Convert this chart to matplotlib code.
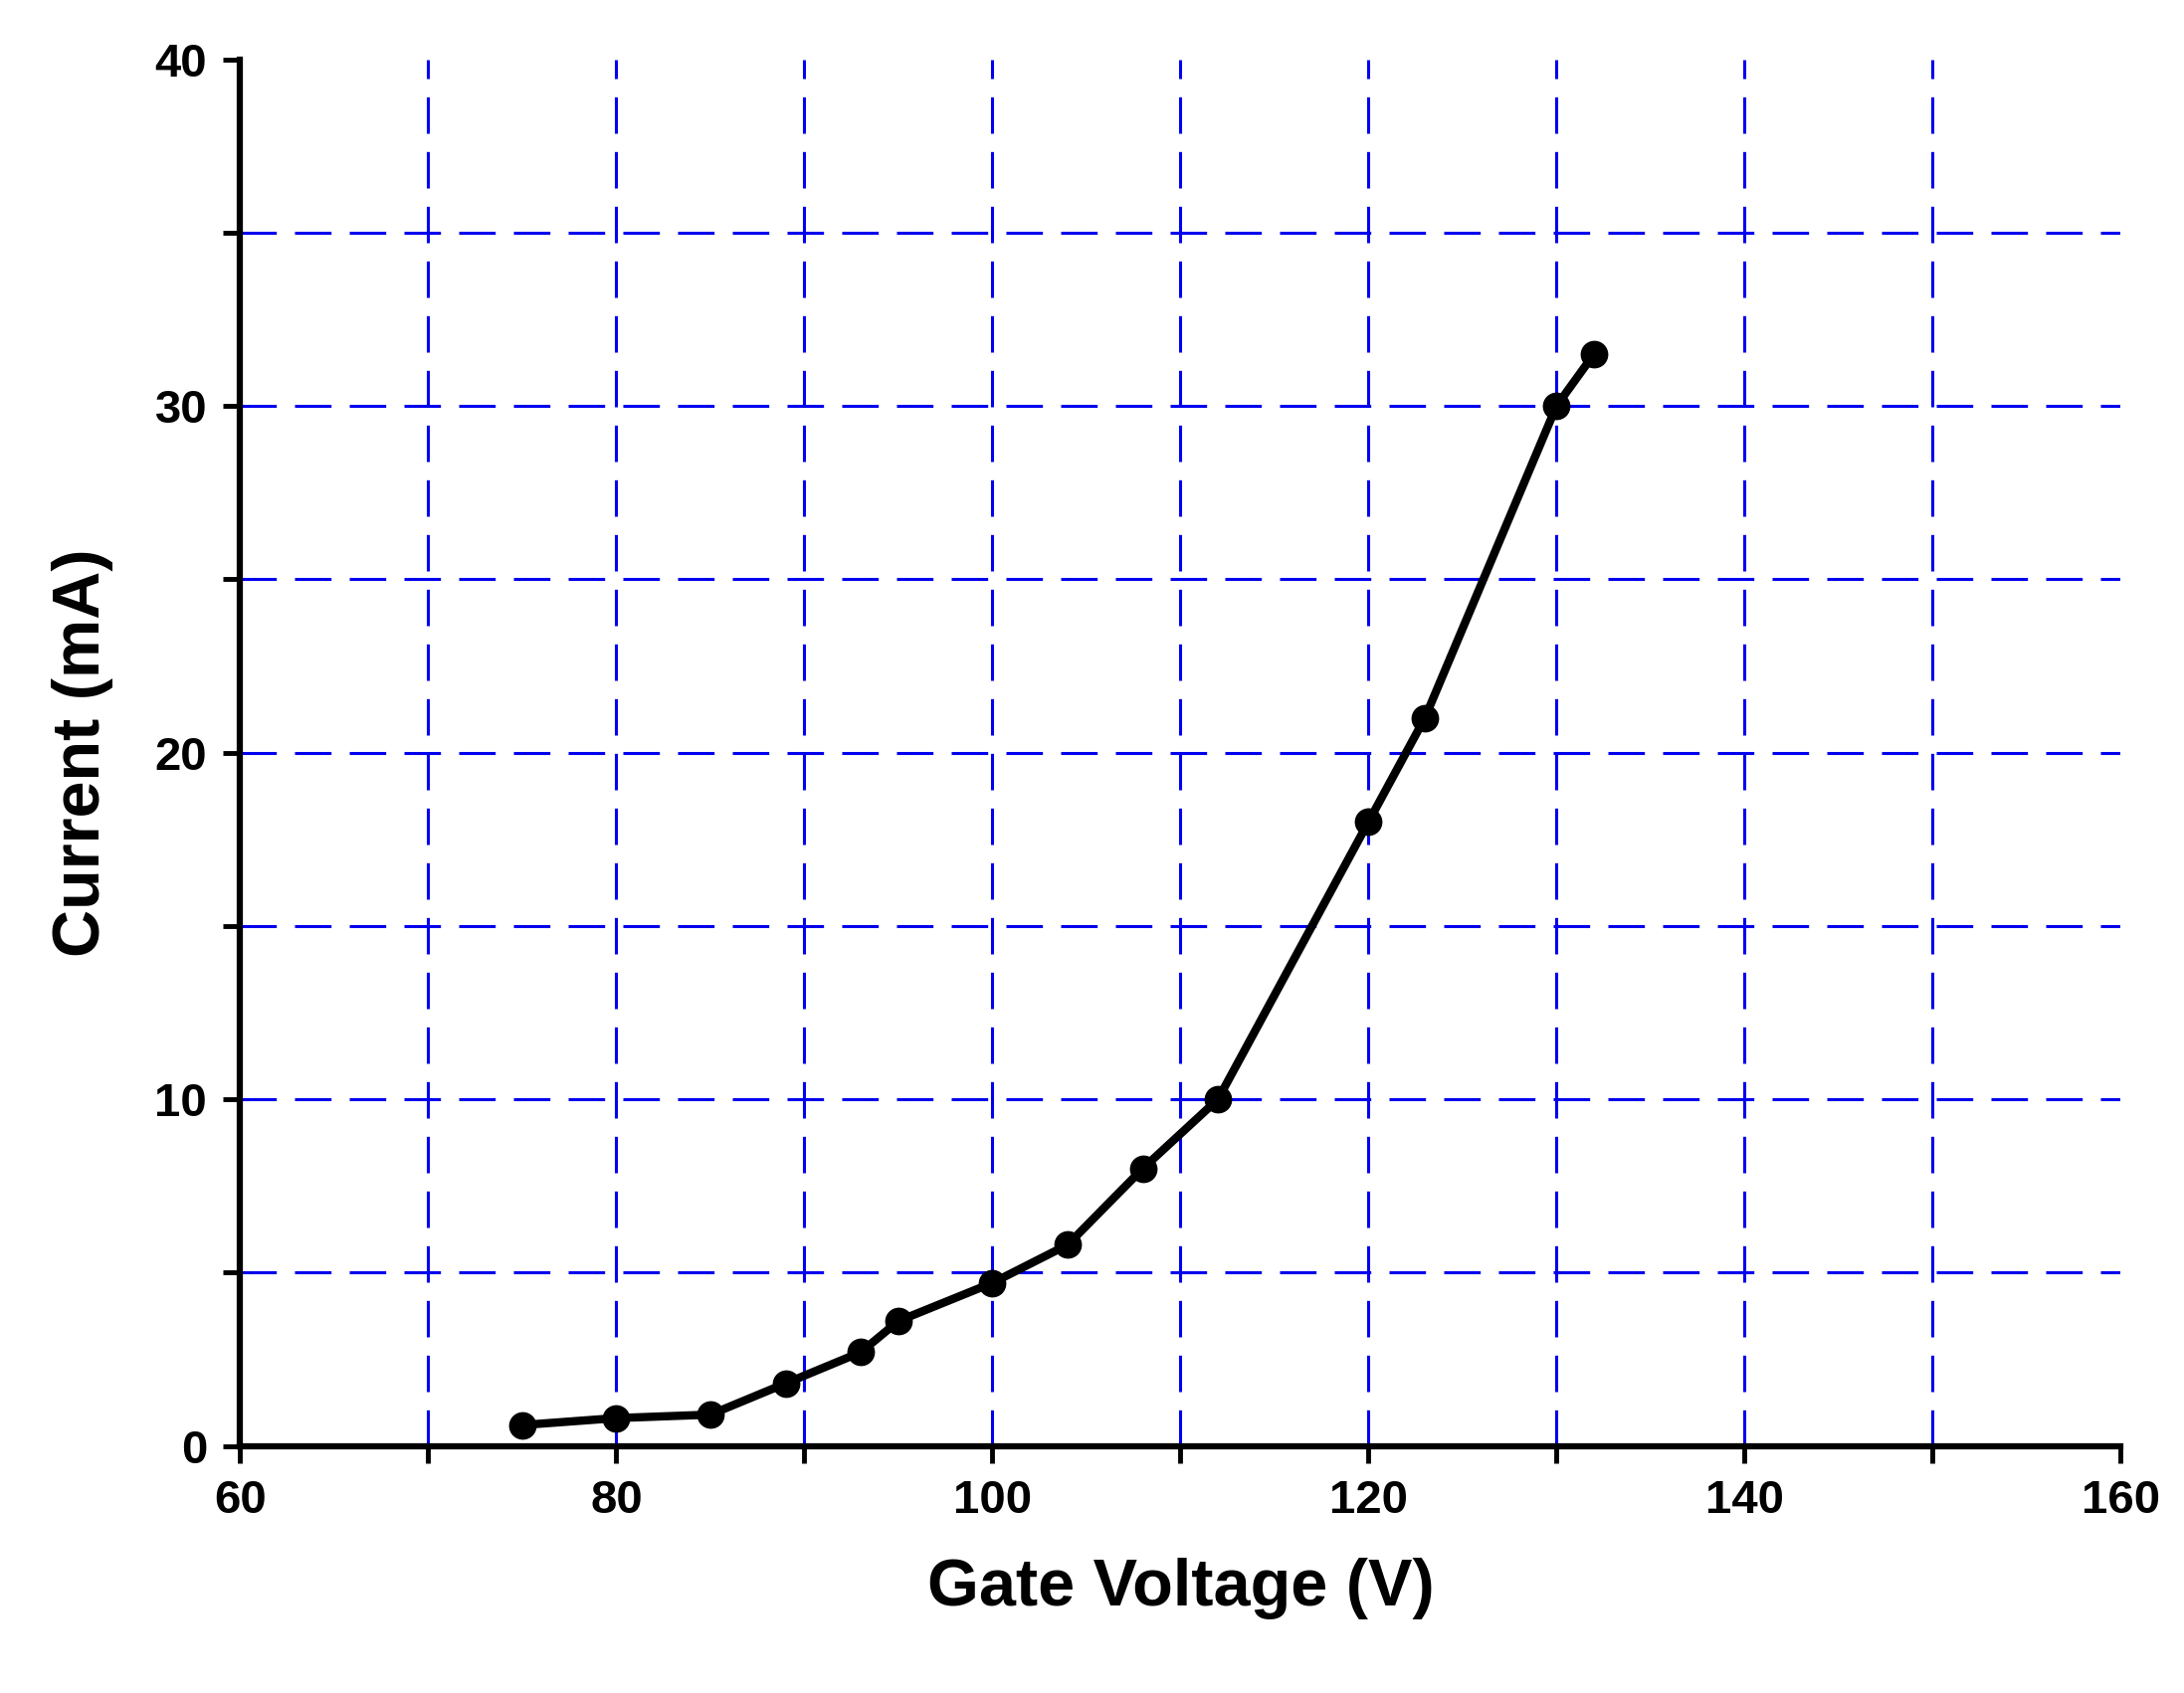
import matplotlib
matplotlib.use("Agg")
import matplotlib.pyplot as plt
from matplotlib.ticker import MultipleLocator

voltage = [75, 80, 85, 89, 93, 95, 100, 104, 108, 112, 120, 123, 130, 132]
current = [0.6, 0.8, 0.9, 1.8, 2.7, 3.6, 4.7, 5.8, 8.0, 10.0, 18.0, 21.0, 30.0, 31.5]

plt.rcParams['font.family'] = ['Liberation Sans', 'DejaVu Sans']
fig = plt.figure(figsize=(21.95, 17.02), dpi=100)
ax = fig.add_axes([0.11, 0.146, 0.861, 0.819])
ax.plot(voltage, current, color='black', lw=6, marker='o', ms=19, zorder=3)
ax.set_xlim(60, 160)
ax.set_ylim(0, 40)
ax.xaxis.set_major_locator(MultipleLocator(20))
ax.xaxis.set_minor_locator(MultipleLocator(10))
ax.yaxis.set_major_locator(MultipleLocator(10))
ax.yaxis.set_minor_locator(MultipleLocator(5))
for v in range(70, 160, 10):
    ax.axvline(v, color='#0000ee', lw=2.2, ls=(0, (12, 6)), zorder=1)
for v in range(5, 40, 5):
    ax.axhline(v, color='#0000ee', lw=2.2, ls=(0, (12, 6)), zorder=1)
for s in ['top', 'right']:
    ax.spines[s].set_visible(False)
for s in ['left', 'bottom']:
    ax.spines[s].set_linewidth(4.5)
ax.tick_params(which='both', direction='out', width=3.5, length=12)
ax.tick_params(labelsize=34, pad=12)
for lab in ax.get_xticklabels() + ax.get_yticklabels():
    lab.set_fontweight('bold')
ax.set_xlabel('Gate Voltage (V)', fontsize=48, fontweight='bold', labelpad=25)
ax.set_ylabel('Current (mA)', fontsize=48, fontweight='bold', labelpad=30)
fig.savefig('out.png', dpi=100)
